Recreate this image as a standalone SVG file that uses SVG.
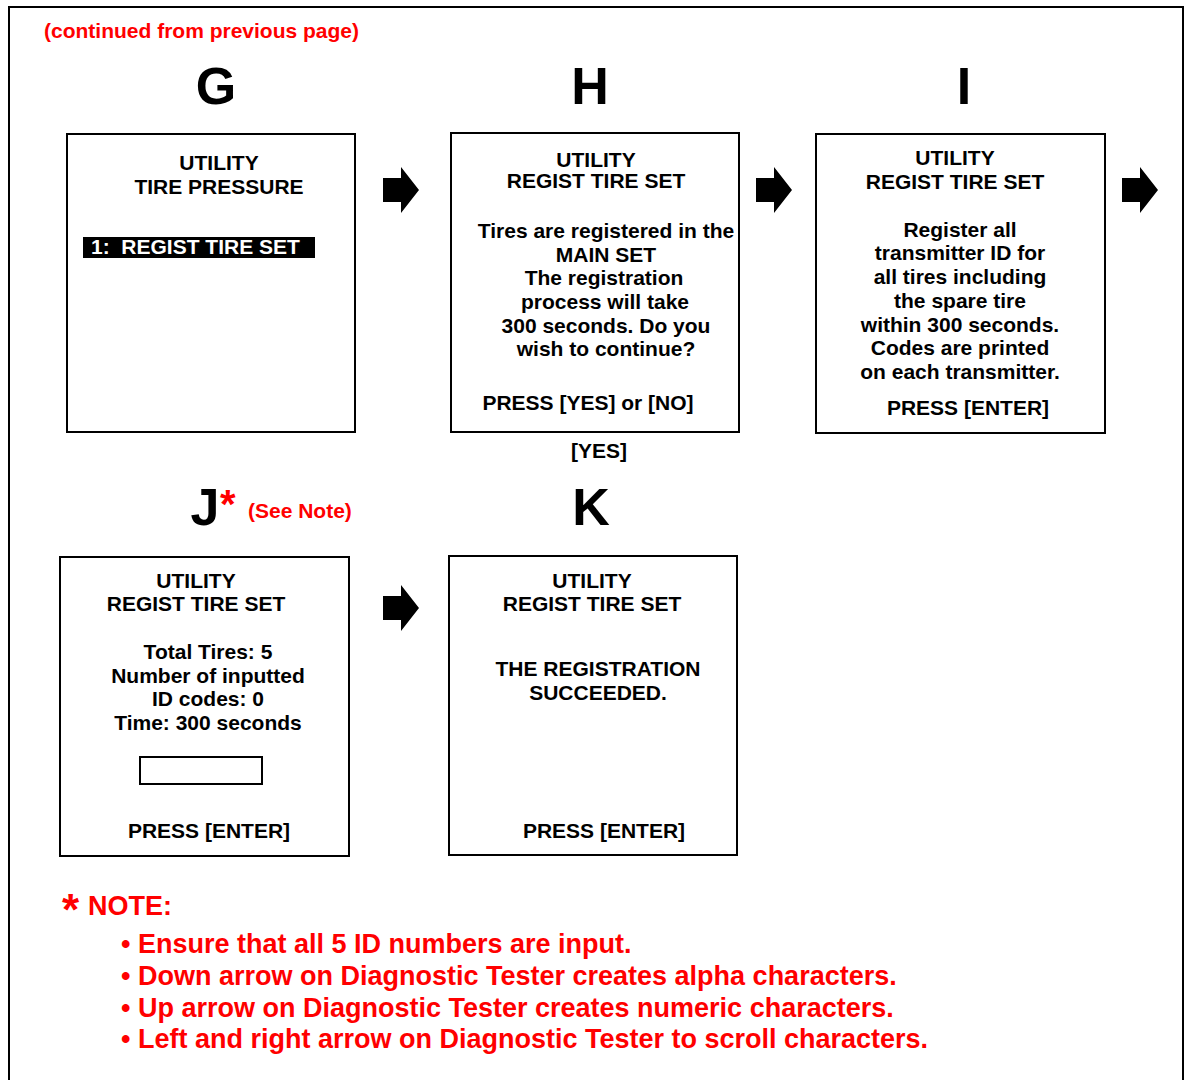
<svg xmlns="http://www.w3.org/2000/svg" width="1185" height="1080" viewBox="0 0 1185 1080">
<style>
.box{fill:#fff;stroke:#000;stroke-width:2}
.t{font-family:"Liberation Sans",Arial,sans-serif;font-weight:bold;font-size:21px;fill:#000;text-anchor:middle}
.big{font-family:"Liberation Sans",Arial,sans-serif;font-weight:bold;font-size:52px;fill:#000;text-anchor:middle}
.red{font-family:"Liberation Sans",Arial,sans-serif;font-weight:bold;fill:#f00}
.note{font-family:"Liberation Sans",Arial,sans-serif;font-weight:bold;font-size:27px;fill:#f00}
</style>
<defs>
<path id="arr" d="M0,-12 H18 V-23 L36,0 L18,23 V12 H0 Z" fill="#000"/>
</defs>
<rect x="0" y="0" width="1185" height="1080" fill="#fff"/>
<path d="M9,1080 V7 H1183 V1080" fill="none" stroke="#000" stroke-width="2"/>
<text class="red" x="44" y="38" font-size="21">(continued from previous page)</text>

<text class="big" x="216" y="104">G</text>
<text class="big" x="590" y="104">H</text>
<text class="big" x="964" y="104">I</text>
<text class="big" x="205" y="525">J</text>
<text class="red" x="220" y="518" font-size="40">*</text>
<text class="red" x="248" y="518" font-size="21">(See Note)</text>
<text class="big" x="591" y="525">K</text>

<g id="nodeG">
<rect class="box" x="67" y="134" width="288" height="298"/>
<text class="t" x="219" y="170">UTILITY</text>
<text class="t" x="219" y="194">TIRE PRESSURE</text>
<rect x="83" y="237" width="232" height="21" fill="#000"/>
<text class="t" x="91" y="254" style="fill:#fff;text-anchor:start" xml:space="preserve">1:  REGIST TIRE SET</text>
</g>

<g id="nodeH">
<rect class="box" x="451" y="133" width="288" height="299"/>
<text class="t" x="596" y="167">UTILITY</text>
<text class="t" x="596" y="188">REGIST TIRE SET</text>
<text class="t" x="606" y="238">Tires are registered in the</text>
<text class="t" x="606" y="262">MAIN SET</text>
<text class="t" x="604" y="285">The registration</text>
<text class="t" x="605" y="309">process will take</text>
<text class="t" x="606" y="333">300 seconds. Do you</text>
<text class="t" x="606" y="356">wish to continue?</text>
<text class="t" x="588" y="410">PRESS [YES] or [NO]</text>
</g>
<text class="t" x="599" y="458">[YES]</text>

<g id="nodeI">
<rect class="box" x="816" y="134" width="289" height="299"/>
<text class="t" x="955" y="165">UTILITY</text>
<text class="t" x="955" y="189">REGIST TIRE SET</text>
<text class="t" x="960" y="237">Register all</text>
<text class="t" x="960" y="260">transmitter ID for</text>
<text class="t" x="960" y="284">all tires including</text>
<text class="t" x="960" y="308">the spare tire</text>
<text class="t" x="960" y="332">within 300 seconds.</text>
<text class="t" x="960" y="355">Codes are printed</text>
<text class="t" x="960" y="379">on each transmitter.</text>
<text class="t" x="968" y="415">PRESS [ENTER]</text>
</g>

<g id="nodeJ">
<rect class="box" x="60" y="557" width="289" height="299"/>
<text class="t" x="196" y="588">UTILITY</text>
<text class="t" x="196" y="611">REGIST TIRE SET</text>
<text class="t" x="208" y="659">Total Tires: 5</text>
<text class="t" x="208" y="683">Number of inputted</text>
<text class="t" x="208" y="706">ID codes: 0</text>
<text class="t" x="208" y="730">Time: 300 seconds</text>
<rect class="box" x="140" y="757" width="122" height="27"/>
<text class="t" x="209" y="838">PRESS [ENTER]</text>
</g>

<g id="nodeK">
<rect class="box" x="449" y="556" width="288" height="299"/>
<text class="t" x="592" y="588">UTILITY</text>
<text class="t" x="592" y="611">REGIST TIRE SET</text>
<text class="t" x="598" y="676">THE REGISTRATION</text>
<text class="t" x="598" y="700">SUCCEEDED.</text>
<text class="t" x="604" y="838">PRESS [ENTER]</text>
</g>

<g id="connectors">
<use href="#arr" x="383" y="190"/>
<use href="#arr" x="756" y="190"/>
<use href="#arr" x="1122" y="190"/>
<use href="#arr" x="383" y="608"/>
</g>

<text class="red" x="62" y="925" font-size="44">*</text>
<text class="note" x="88" y="915">NOTE:</text>
<text class="note" x="121" y="953">• Ensure that all 5 ID numbers are input.</text>
<text class="note" x="121" y="985">• Down arrow on Diagnostic Tester creates alpha characters.</text>
<text class="note" x="121" y="1017">• Up arrow on Diagnostic Tester creates numeric characters.</text>
<text class="note" x="121" y="1048">• Left and right arrow on Diagnostic Tester to scroll characters.</text>
</svg>
